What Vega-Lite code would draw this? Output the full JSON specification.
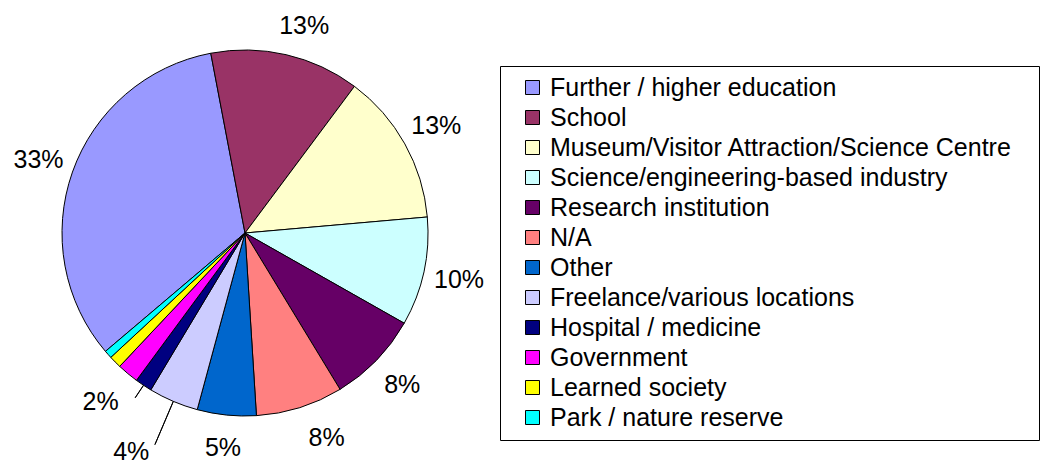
{
  "$schema": "https://vega.github.io/schema/vega-lite/v6.json",
  "width": 490,
  "height": 466,
  "padding": 0,
  "autosize": {"type": "pad"},
  "background": "white",
  "config": {
    "view": {"stroke": null},
    "text": {"font": "Liberation Sans"}
  },
  "data": {
    "values": [
      {"category": "Further / higher education", "value": 33.2, "label": "33%"},
      {"category": "School", "value": 13.2, "label": "13%"},
      {"category": "Museum/Visitor Attraction/Science Centre", "value": 13.4, "label": "13%"},
      {"category": "Science/engineering-based industry", "value": 9.6, "label": "10%"},
      {"category": "Research institution", "value": 8.1, "label": "8%"},
      {"category": "N/A", "value": 7.7, "label": "8%"},
      {"category": "Other", "value": 5.2, "label": "5%"},
      {"category": "Freelance/various locations", "value": 4.4, "label": "4%"},
      {"category": "Hospital / medicine", "value": 1.5, "label": "2%"},
      {"category": "Government", "value": 1.9, "label": ""},
      {"category": "Learned society", "value": 1.1, "label": ""},
      {"category": "Park / nature reserve", "value": 0.7, "label": ""}
    ]
  },
  "transform": [
    {"stack": "value", "groupby": [], "as": ["v0", "v1"]},
    {"calculate": "(datum.v0 + datum.v1) / 2", "as": "mid"}
  ],
  "layer": [
    {
      "mark": {"type": "arc", "radius": 183, "stroke": "black", "strokeWidth": 1},
      "encoding": {
        "theta": {"field": "v0", "type": "quantitative", "scale": {"domain": [0, 100], "range": [4.00902, 10.29221]}},
        "theta2": {"field": "v1"},
        "color": {
          "field": "category",
          "type": "nominal",
          "sort": null,
          "scale": {
            "domain": ["Further / higher education", "School", "Museum/Visitor Attraction/Science Centre", "Science/engineering-based industry", "Research institution", "N/A", "Other", "Freelance/various locations", "Hospital / medicine", "Government", "Learned society", "Park / nature reserve"],
            "range": ["#9999FF", "#993366", "#FFFFCC", "#CCFFFF", "#660066", "#FF8080", "#0066CC", "#CCCCFF", "#000080", "#FF00FF", "#FFFF00", "#00FFFF"]
          },
          "legend": {
            "title": " ",
            "titleOrient": "right",
            "titlePadding": 18,
            "titleFontSize": 4,
            "orient": "none",
            "legendX": 500,
            "legendY": 66,
            "padding": 9,
            "strokeColor": "#000000",
            "symbolType": "square",
            "symbolSize": 196,
            "symbolStrokeColor": "#000000",
            "symbolStrokeWidth": 1,
            "symbolOffset": 11,
            "labelOffset": 5,
            "labelFont": "Liberation Sans",
            "labelFontSize": 25,
            "labelColor": "#000000",
            "labelLimit": 600,
            "rowPadding": 4
          }
        }
      }
    },
    {
      "transform": [{"filter": "datum.category != 'Hospital / medicine' && datum.category != 'Freelance/various locations'"}],
      "mark": {
        "type": "text", "radius": 219, "fontSize": 25, "color": "black", "align": "center", "baseline": "middle",
        "dx": {"expr": "datum.category == 'School' ? 10 : datum.category == 'N/A' ? 16 : 0"},
        "dy": {"expr": "datum.category == 'School' ? 6 : datum.category == 'N/A' ? -4 : datum.category == 'Other' ? -3 : 0"}
      },
      "encoding": {
        "theta": {"field": "mid", "type": "quantitative", "scale": {"domain": [0, 100], "range": [4.00902, 10.29221]}},
        "text": {"field": "label"}
      }
    },
    {
      "transform": [{"filter": "datum.category == 'Hospital / medicine'"}],
      "mark": {"type": "text", "radius": 219, "fontSize": 25, "color": "black", "align": "center", "baseline": "middle", "dx": -23, "dy": -13},
      "encoding": {
        "theta": {"field": "mid", "type": "quantitative", "scale": {"domain": [0, 100], "range": [4.00902, 10.29221]}},
        "text": {"field": "label"}
      }
    },
    {
      "transform": [{"filter": "datum.category == 'Freelance/various locations'"}],
      "mark": {"type": "text", "radius": 219, "fontSize": 25, "color": "black", "align": "center", "baseline": "middle", "dx": -28, "dy": 17},
      "encoding": {
        "theta": {"field": "mid", "type": "quantitative", "scale": {"domain": [0, 100], "range": [4.00902, 10.29221]}},
        "text": {"field": "label"}
      }
    },
    {
      "transform": [{"filter": "datum.category == 'Hospital / medicine'"}],
      "mark": {"type": "arc", "radius": 198, "radius2": 183, "fill": null, "stroke": "black", "strokeWidth": 1},
      "encoding": {
        "theta": {"field": "mid", "type": "quantitative", "scale": {"domain": [0, 100], "range": [4.00902, 10.29221]}},
        "theta2": {"field": "mid"}
      }
    },
    {
      "transform": [{"filter": "datum.category == 'Freelance/various locations'"}],
      "mark": {"type": "arc", "radius": 230, "radius2": 183, "fill": null, "stroke": "black", "strokeWidth": 1},
      "encoding": {
        "theta": {"field": "mid", "type": "quantitative", "scale": {"domain": [0, 100], "range": [4.00902, 10.29221]}},
        "theta2": {"field": "mid"}
      }
    }
  ]
}
